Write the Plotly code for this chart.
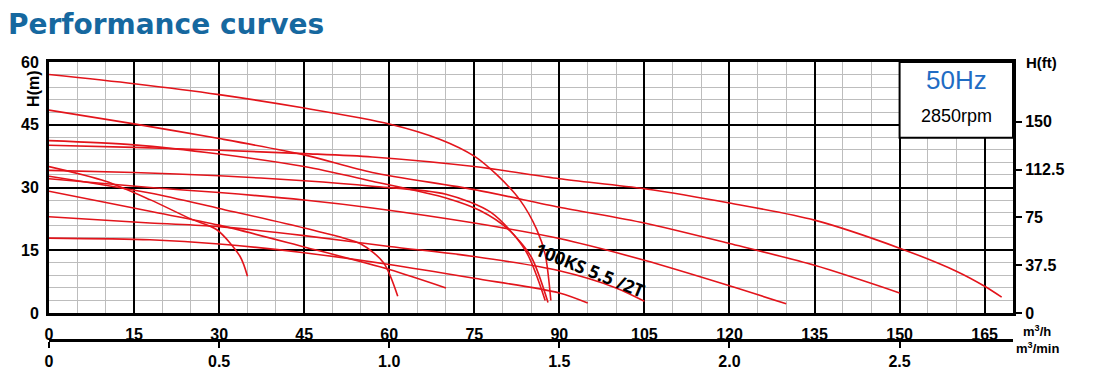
import plotly.graph_objects as go

# ---- data (flow in m3/h, head in m) ----
curve_a_q = [0, 15, 30, 45, 60, 69, 75, 79, 83, 86, 87.5, 88.5]
curve_a_h = [57, 54.8, 52.2, 49, 45.2, 41.5, 37.5, 33, 27.1, 20, 14, 3]

curve_b_q = [0, 15, 30, 45, 57, 75, 90, 105, 120, 135, 150]
curve_b_h = [48.5, 45.2, 41.7, 37.8, 33.6, 29.5, 25.3, 21.5, 16.6, 11.4, 4.8]

curve_r1_q = [0, 15, 30, 45, 57, 75, 90, 105, 120, 135, 150, 160, 165, 168]
curve_r1_h = [40.1, 39.6, 38.9, 38.1, 37.3, 35, 32.1, 29.7, 26.3, 22.2, 15.5, 10, 6.4, 3.8]

curve_p_q = [0, 15, 30, 45, 57, 70, 76, 81, 85, 88]
curve_p_h = [41.2, 40.2, 38, 35, 31.5, 27.5, 24.5, 20, 13.5, 2.5]

curve_c_q = [0, 15, 30, 45, 57, 70, 78, 84, 87.5]
curve_c_h = [34.1, 33.6, 32.8, 31.6, 30.3, 28.4, 24, 15, 3]

curve_r3_q = [0, 17.8, 30, 45, 57, 75, 90, 105, 120, 130]
curve_r3_h = [32.1, 30, 28.8, 27, 25.1, 21.5, 17.8, 12.6, 6.5, 2.2]

curve_e_q = [0, 17.8, 30, 45, 55, 59, 61.5]
curve_e_h = [32.7, 28.7, 25, 20.3, 16.5, 12, 4]

curve_f_q = [0, 17.8, 30, 45, 60, 70]
curve_f_h = [29.1, 24.3, 21, 15.8, 10.4, 6]

curve_k_q = [0, 17.8, 29.6, 45, 60, 75, 90, 100, 105]
curve_k_h = [23, 21.5, 20.7, 18.5, 15.9, 13.5, 10.1, 6, 2.8]

curve_l_q = [0, 17.8, 30, 45, 60, 75, 90, 95]
curve_l_h = [17.9, 17.5, 16.5, 14.4, 11.6, 8.3, 4.8, 2.4]

curve_s_q = [0, 10, 17.8, 25, 29.6, 33.7, 35]
curve_s_h = [35, 31.5, 27.1, 22.5, 19.9, 13.5, 8.8]

flow_ticks = [0, 15, 30, 45, 60, 75, 90, 105, 120, 135, 150, 165]
head_ticks = [0, 15, 30, 45, 60]
ft_ticks = [0, 37.5, 75, 112.5, 150]
ft_labels = ["0", "37.5", "75", "112.5", "150"]
min_ticks = [0, 0.5, 1.0, 1.5, 2.0, 2.5]
min_labels = ["0", "0.5", "1.0", "1.5", "2.0", "2.5"]

Q_MAX = 170
H_MAX = 60
M_TO_FT = 3.28084

curves = [
    (curve_a_q, curve_a_h), (curve_b_q, curve_b_h), (curve_r1_q, curve_r1_h),
    (curve_p_q, curve_p_h), (curve_c_q, curve_c_h),
    (curve_r3_q, curve_r3_h), (curve_e_q, curve_e_h), (curve_f_q, curve_f_h),
    (curve_k_q, curve_k_h), (curve_l_q, curve_l_h), (curve_s_q, curve_s_h),
]

RED = "#e3141b"
FONT = "Liberation Sans"
TICKFONT = dict(family=FONT, size=16, color="black", weight="bold")

# the page body has an 8 px margin, so the figure is drawn 8 px smaller
FIG_W, FIG_H = 1104, 364

fig = go.Figure()
for q, h in curves:
    fig.add_trace(go.Scatter(x=q, y=h, mode="lines", line=dict(color=RED, width=1.6, shape="spline", smoothing=0.8),
                             showlegend=False, hoverinfo="skip"))

# helper traces so the secondary axes are drawn
fig.add_trace(go.Scatter(x=[0, Q_MAX / 60], y=[0, 0], xaxis="x2", yaxis="y", mode="lines",
                         line=dict(width=0), opacity=0, showlegend=False, hoverinfo="skip"))
fig.add_trace(go.Scatter(x=[0, 0], y=[0, H_MAX * M_TO_FT], xaxis="x", yaxis="y2", mode="lines",
                         line=dict(width=0), opacity=0, showlegend=False, hoverinfo="skip"))

# speed box (covers the grid in the top-right corner)
fig.add_shape(type="rect", xref="x", yref="y", x0=150, x1=Q_MAX, y0=41.9, y1=H_MAX,
              fillcolor="white", line=dict(color="black", width=2), layer="above")

fig.add_annotation(x=160, y=55.6, xref="x", yref="y", text="50Hz", showarrow=False,
                   xanchor="center", yanchor="middle",
                   font=dict(family=FONT, size=26, color="#1f6cc4"))
fig.add_annotation(x=160, y=47.1, xref="x", yref="y", text="2850rpm", showarrow=False,
                   xanchor="center", yanchor="middle",
                   font=dict(family=FONT, size=18, color="black"))

fig.add_annotation(x=95.5, y=10.2, xref="x", yref="y", text="<b>100KS 5.5 /2T</b>", showarrow=False,
                   xanchor="center", yanchor="middle",
                   textangle=22, font=dict(family="Noto Sans", size=18, color="black"))

fig.add_annotation(xref="paper", yref="paper", x=-0.0156, y=0.903, text="<b>H(m)</b>", showarrow=False,
                   xanchor="center", yanchor="middle",
                   textangle=-90, font=dict(family=FONT, size=16, color="black"))
fig.add_annotation(xref="paper", yref="paper", x=1.03, y=1.0, text="<b>H(ft)</b>", showarrow=False,
                   xanchor="center", yanchor="middle",
                   font=dict(family=FONT, size=15, color="black"))
fig.add_annotation(xref="paper", yref="paper", x=1.025, y=0.0, yshift=9, text="<b>m<sup>3</sup>/h</b>",
                   xanchor="center", yanchor="middle",
                   showarrow=False, font=dict(family=FONT, size=13, color="black"))
fig.add_annotation(xref="paper", yref="paper", x=1.025, y=0.0, yshift=-8, text="<b>m<sup>3</sup>/min</b>",
                   xanchor="center", yanchor="middle",
                   showarrow=False, font=dict(family=FONT, size=13, color="black"))

fig.update_layout(
    width=FIG_W, height=FIG_H,
    margin=dict(l=41, r=99, t=54, b=32, autoexpand=False),
    paper_bgcolor="white", plot_bgcolor="white",
    title=dict(text="<b>Performance curves</b>", x=0, y=1 - 16 / FIG_H, xref="container", yref="container",
               xanchor="left", yanchor="middle",
               font=dict(family="DejaVu Sans", size=28, color="#16689f")),
    xaxis=dict(range=[0, Q_MAX], tickvals=flow_ticks, showgrid=True, gridcolor="black", gridwidth=2,
               minor=dict(dtick=5, tick0=0, showgrid=True, gridcolor="#bdbdbd", gridwidth=1),
               showline=True, linecolor="black", linewidth=3, mirror=True, zeroline=False,
               ticks="", ticklabelstandoff=5, anchor="y", automargin=False,
               tickfont=TICKFONT),
    xaxis2=dict(range=[0, Q_MAX / 60], overlaying="x", anchor="free", position=0, side="bottom",
                tickvals=min_ticks, ticktext=min_labels, showgrid=False, zeroline=False, automargin=False,
                showline=True, linecolor="black", linewidth=3, ticks="outside", ticklen=6, tickwidth=2,
                tickcolor="black", tickfont=TICKFONT),
    yaxis=dict(range=[0, H_MAX], tickvals=head_ticks, domain=[27 / 278, 1], showgrid=True, gridcolor="black",
               gridwidth=2, minor=dict(dtick=3, tick0=0, showgrid=True, gridcolor="#bdbdbd", gridwidth=1),
               showline=True, linecolor="black", linewidth=3, mirror=True, zeroline=False,
               ticks="", ticklabelstandoff=4, automargin=False,
               tickfont=TICKFONT),
    yaxis2=dict(range=[0, H_MAX * M_TO_FT], overlaying="y", side="right", anchor="x",
                tickvals=ft_ticks, ticktext=ft_labels, showgrid=False, zeroline=False, automargin=False,
                showline=False, ticks="outside", ticklen=8, tickwidth=2, tickcolor="black",
                tickfont=TICKFONT),
)

fig.write_html("out.html")
